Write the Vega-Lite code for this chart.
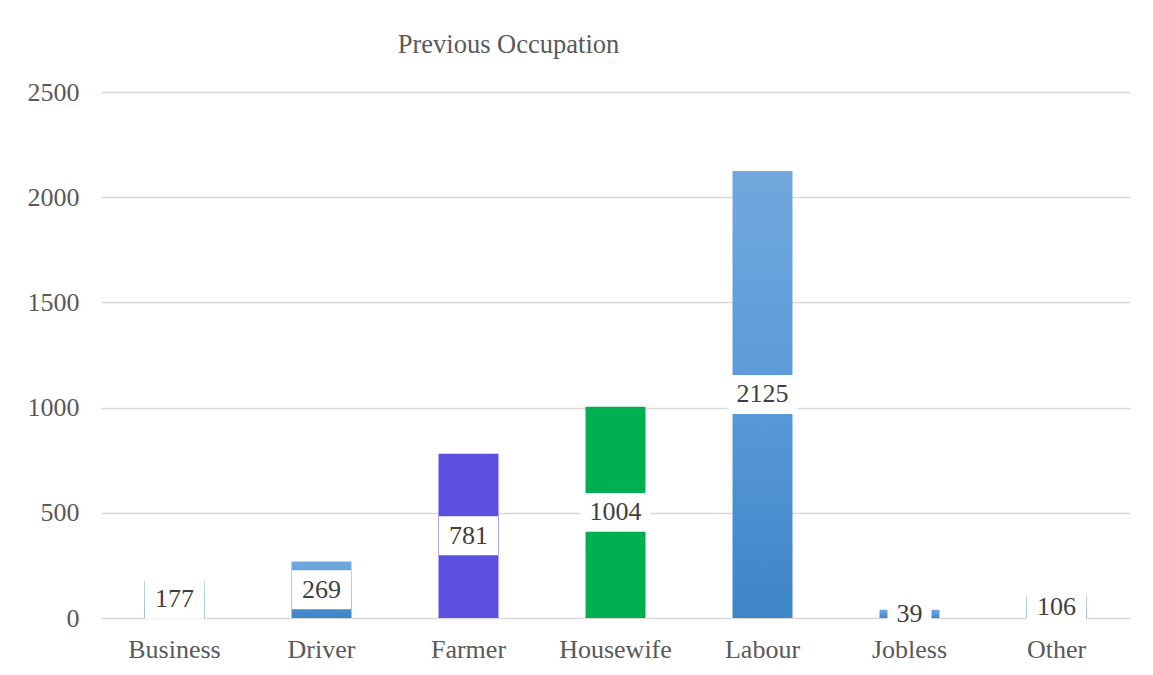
{
  "$schema": "https://vega.github.io/schema/vega-lite/v6.json",
  "width": 1029,
  "height": 526,
  "autosize": "none",
  "padding": {"left": 101, "top": 92, "right": 23, "bottom": 57},
  "background": "white",
  "config": {"view": {"stroke": null}},
  "title": {
    "text": "Previous Occupation",
    "anchor": "middle",
    "dx": -107,
    "offset": 21,
    "font": "Liberation Serif",
    "fontSize": 26.5,
    "fontWeight": "normal",
    "color": "#595959"
  },
  "data": {
    "values": [
      {"occupation": "Business", "count": 177},
      {"occupation": "Driver", "count": 269},
      {"occupation": "Farmer", "count": 781},
      {"occupation": "Housewife", "count": 1004},
      {"occupation": "Labour", "count": 2125},
      {"occupation": "Jobless", "count": 39},
      {"occupation": "Other", "count": 106}
    ]
  },
  "transform": [
    {"calculate": "datum.count / 2", "as": "mid"},
    {"calculate": "length(toString(datum.count))", "as": "digits"}
  ],
  "encoding": {
    "x": {
      "field": "occupation",
      "type": "nominal",
      "sort": ["Business", "Driver", "Farmer", "Housewife", "Labour", "Jobless", "Other"],
      "scale": {"paddingInner": 0.592, "paddingOuter": 0.296},
      "axis": {
        "title": null,
        "labelAngle": 0,
        "domain": false,
        "ticks": false,
        "labelPadding": 18,
        "labelFont": "Liberation Serif",
        "labelFontSize": 26,
        "labelColor": "#595959",
        "grid": false
      }
    }
  },
  "layer": [
    {
      "transform": [{"filter": "datum.occupation != 'Farmer' && datum.occupation != 'Housewife'"}],
      "mark": {
        "type": "bar",
        "fill": {
          "gradient": "linear",
          "x1": 0, "y1": 0, "x2": 0, "y2": 1,
          "stops": [
            {"offset": 0, "color": "#71A8DD"},
            {"offset": 0.5, "color": "#5A9AD8"},
            {"offset": 1, "color": "#3E85C7"}
          ]
        }
      },
      "encoding": {
        "y": {
          "field": "count",
          "type": "quantitative",
          "scale": {"domain": [0, 2500], "nice": false},
          "axis": {
            "title": null,
            "values": [0, 500, 1000, 1500, 2000, 2500],
            "format": "d",
            "domain": false,
            "ticks": false,
            "labelPadding": 22,
            "labelFont": "Liberation Serif",
            "labelFontSize": 26,
            "labelColor": "#595959",
            "gridColor": "#D9D9D9",
            "gridWidth": 1.3
          }
        }
      }
    },
    {
      "transform": [{"filter": "datum.occupation == 'Farmer' || datum.occupation == 'Housewife'"}],
      "mark": {"type": "bar"},
      "encoding": {
        "y": {"field": "count", "type": "quantitative"},
        "color": {
          "field": "occupation",
          "type": "nominal",
          "scale": {"domain": ["Farmer", "Housewife"], "range": ["#5B50DF", "#00B050"]},
          "legend": null
        }
      }
    },
    {
      "mark": {"type": "point", "filled": true, "fill": "white", "opacity": 1, "strokeWidth": 0, "size": 4900},
      "encoding": {
        "y": {"field": "mid", "type": "quantitative"},
        "shape": {
          "field": "digits",
          "type": "nominal",
          "scale": {
            "domain": [2, 3, 4],
            "range": [
              "M-0.629,-0.557H0.629V0.557H-0.629Z",
              "M-0.843,-0.557H0.843V0.557H-0.843Z",
              "M-1,-0.557H1V0.557H-1Z"
            ]
          },
          "legend": null
        }
      }
    },
    {
      "mark": {"type": "text", "font": "Liberation Serif", "fontSize": 26, "color": "#404040", "baseline": "middle"},
      "encoding": {
        "y": {"field": "mid", "type": "quantitative"},
        "text": {"field": "count", "type": "quantitative"}
      }
    }
  ]
}
